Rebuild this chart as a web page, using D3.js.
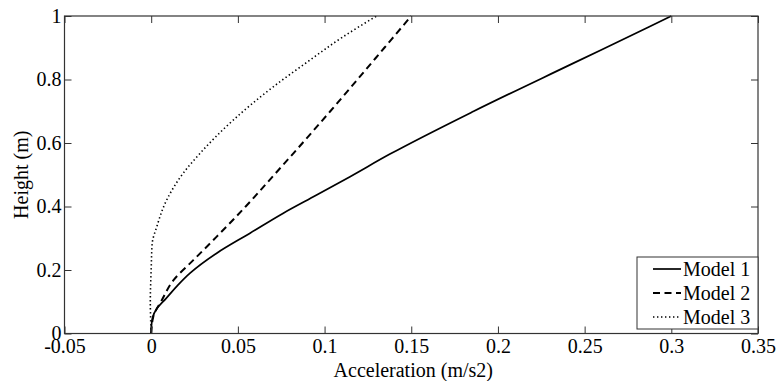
<!DOCTYPE html>
<html><head><meta charset="utf-8">
<script src="https://cdn.jsdelivr.net/npm/d3@7"></script>
<style>
body{margin:0;background:#fff;}
svg text{font-family:"Liberation Serif","DejaVu Serif","Times New Roman",serif !important;fill:#000;}
</style></head>
<body>
<svg id="c" width="777" height="381"></svg>
<script>
// ---- data ----
const seriesNames = ["Model 1", "Model 2", "Model 3"];
const model1Height = [0, 0.02, 0.05, 0.08, 0.11, 0.15, 0.19, 0.253, 0.316, 0.379, 0.436, 0.494, 0.565, 0.7, 0.85, 0.966, 1];
const model1Accel  = [0, 0.0001, 0.0008, 0.0035, 0.0085, 0.015, 0.0224, 0.0378, 0.057, 0.0762, 0.0954, 0.1147, 0.1377, 0.186, 0.243, 0.2873, 0.3];
const model2Height = [0, 0.053, 0.105, 0.168, 0.231, 0.305, 0.4, 0.5, 0.6, 0.7, 0.8, 0.9, 1];
const model2Accel  = [0, 0.0012, 0.0061, 0.0129, 0.0243, 0.0378, 0.0545, 0.071, 0.0873, 0.1033, 0.119, 0.1345, 0.15];
const model3Height = [0, 0.1, 0.2, 0.284, 0.336, 0.42, 0.505, 0.567, 0.672, 0.777, 0.855, 0.932, 1];
const model3Accel  = [0, -0.0005, 0, 0.0006, 0.0032, 0.0089, 0.0185, 0.0281, 0.0473, 0.0704, 0.09, 0.11, 0.13];
const xTicks = [-0.05, 0, 0.05, 0.1, 0.15, 0.2, 0.25, 0.3, 0.35];
const xTickLabels = ["-0.05", "0", "0.05", "0.1", "0.15", "0.2", "0.25", "0.3", "0.35"];
const yTicks = [0, 0.2, 0.4, 0.6, 0.8, 1];
const yTickLabels = ["0", "0.2", "0.4", "0.6", "0.8", "1"];
const xTitle = "Acceleration (m/s2)";
const yTitle = "Height (m)";

// ---- layout ----
const L = 64.5, R = 758, T = 16, B = 333.5;
const svg = d3.select("#c");
const x = d3.scaleLinear().domain([-0.05, 0.35]).range([L, R]);
const y = d3.scaleLinear().domain([0, 1]).range([B, T]);
const FS = 20;
const FF = "Liberation Serif";

const styles = [
  {dash: null, w: 1.7},
  {dash: "7,4.5", w: 2},
  {dash: "1.4,2.6", w: 1.6}
];
const series = [
  model1Height.map((h, i) => ({h, a: model1Accel[i]})),
  model2Height.map((h, i) => ({h, a: model2Accel[i]})),
  model3Height.map((h, i) => ({h, a: model3Accel[i]}))
];

const line = d3.line().x(d => x(d.a)).y(d => y(d.h)).curve(d3.curveMonotoneY);
series.forEach((s, i) => {
  svg.append("path").datum(s).attr("d", line)
    .attr("fill", "none").attr("stroke", "#000")
    .attr("stroke-width", styles[i].w)
    .attr("stroke-dasharray", styles[i].dash);
});

// axes
const tk = 7;
function styleAxis(g){
  g.attr("font-family", FF).attr("font-size", FS);
  g.selectAll(".domain").remove();
  g.selectAll("line").attr("stroke", "#333").attr("stroke-width", 1);
}
const xb = svg.append("g").attr("transform", `translate(0,${B})`)
  .call(d3.axisBottom(x).tickValues(xTicks).tickFormat((d, i) => xTickLabels[i]).tickSize(-tk));
styleAxis(xb);
xb.selectAll("text").attr("y", 4).attr("dy", "0.75em").attr("fill", "#000");
const xt = svg.append("g").attr("transform", `translate(0,${T})`)
  .call(d3.axisTop(x).tickValues(xTicks).tickFormat("").tickSize(-tk));
styleAxis(xt);
const yl = svg.append("g").attr("transform", `translate(${L},0)`)
  .call(d3.axisLeft(y).tickValues(yTicks).tickFormat((d, i) => yTickLabels[i]).tickSize(-tk).tickPadding(3));
styleAxis(yl);
yl.selectAll("text").attr("fill", "#000");
const yr = svg.append("g").attr("transform", `translate(${R},0)`)
  .call(d3.axisRight(y).tickValues(yTicks).tickFormat("").tickSize(-tk));
styleAxis(yr);

// box
svg.append("rect").attr("x", L).attr("y", T).attr("width", R - L).attr("height", B - T)
  .attr("fill", "none").attr("stroke", "#333").attr("stroke-width", 1.2);

// titles
svg.append("text").attr("x", (L + R) / 2 + 2).attr("y", 377).attr("text-anchor", "middle")
  .attr("font-family", FF).attr("font-size", FS).text(xTitle);
svg.append("text").attr("transform", `translate(28,${(T + B) / 2}) rotate(-90)`)
  .attr("text-anchor", "middle").attr("font-family", FF).attr("font-size", FS).text(yTitle);

// legend
const lgX = 637, lgY = 257, lgW = R - lgX, lgH = 72;
svg.append("rect").attr("x", lgX).attr("y", lgY).attr("width", lgW).attr("height", lgH)
  .attr("fill", "#fff").attr("stroke", "#333").attr("stroke-width", 1);
seriesNames.forEach((n, i) => {
  const cy = lgY + 12 + i * 24;
  svg.append("line").attr("x1", lgX + 16).attr("x2", lgX + 44).attr("y1", cy).attr("y2", cy)
    .attr("stroke", "#000").attr("stroke-width", styles[i].w).attr("stroke-dasharray", styles[i].dash);
  svg.append("text").attr("x", lgX + 46).attr("y", cy).attr("dy", "0.35em")
    .attr("font-family", FF).attr("font-size", FS).text(n);
});
</script>
</body></html>
